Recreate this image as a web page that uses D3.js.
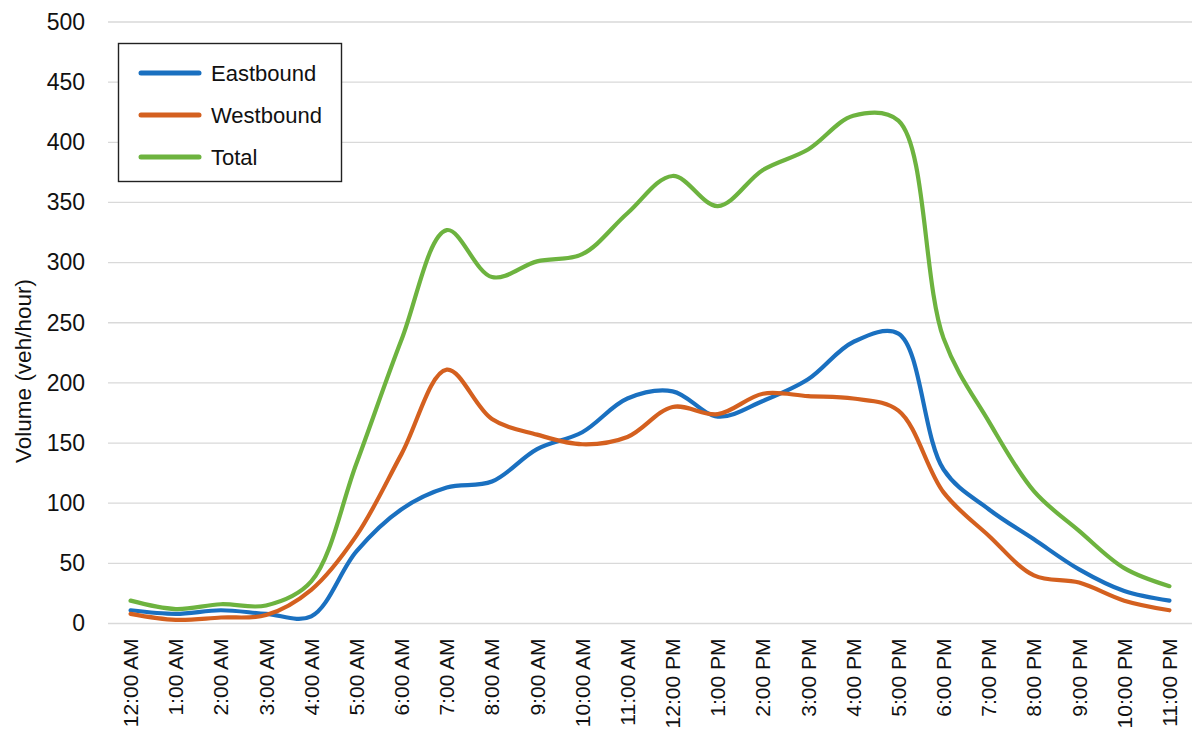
<!DOCTYPE html>
<html>
<head>
<meta charset="utf-8">
<script src="https://cdn.jsdelivr.net/npm/d3@7"></script>
<style>
  html, body { margin: 0; padding: 0; background: #fff; }
  svg { display: block; font-family: "Liberation Sans", Arial, sans-serif; }
</style>
</head>
<body>
<svg id="chart" width="1199" height="736"></svg>
<script>
const hours = ["12:00 AM","1:00 AM","2:00 AM","3:00 AM","4:00 AM","5:00 AM","6:00 AM","7:00 AM","8:00 AM","9:00 AM","10:00 AM","11:00 AM",
               "12:00 PM","1:00 PM","2:00 PM","3:00 PM","4:00 PM","5:00 PM","6:00 PM","7:00 PM","8:00 PM","9:00 PM","10:00 PM","11:00 PM"];
const eastbound = [11, 8, 11, 8, 6, 60, 95, 113, 118, 145, 159, 187, 193, 172, 185, 203, 234, 241, 128, 95, 70, 45, 27, 19];
const westbound = [8, 3, 5, 7, 28, 73, 141, 211, 170, 157, 149, 155, 180, 174, 191, 189, 187, 177, 109, 73, 40, 34, 19, 11];
const total     = [19, 12, 16, 15, 35, 133, 236, 327, 288, 301, 307, 341, 372, 347, 377, 394, 422, 418, 237, 168, 110, 77, 46, 31];
const yTicks = [0, 50, 100, 150, 200, 250, 300, 350, 400, 450, 500];
const seriesNames = ["Eastbound", "Westbound", "Total"];
const seriesColors = ["#1a70c0", "#d4601f", "#6db33f"];

const series = [eastbound, westbound, total].map((v, i) => ({ name: seriesNames[i], values: v, color: seriesColors[i] }));

const svg = d3.select("#chart");
const plotL = 108, plotR = 1192, plotT = 22, plotB = 623.5;

const x = d3.scaleBand().domain(hours).range([plotL, plotR]);
const y = d3.scaleLinear().domain([0, 500]).range([plotB, plotT]);

// gridlines
svg.append("g")
  .selectAll("line").data(yTicks).join("line")
  .attr("x1", plotL).attr("x2", plotR)
  .attr("y1", d => y(d)).attr("y2", d => y(d))
  .attr("stroke", "#d9d9d9").attr("stroke-width", 1.3);

// y axis
const yAxis = svg.append("g")
  .attr("transform", `translate(${plotL},0)`)
  .call(d3.axisLeft(y).tickValues(yTicks).tickSize(0).tickPadding(23));
yAxis.select(".domain").remove();
yAxis.selectAll("text").attr("font-size", 23).attr("fill", "#111")
  .attr("font-family", "Liberation Sans, Arial, sans-serif");

// x axis
const xAxis = svg.append("g")
  .attr("transform", `translate(0,${plotB})`)
  .call(d3.axisBottom(x).tickSize(0).tickPadding(0));
xAxis.select(".domain").remove();
xAxis.selectAll("text")
  .attr("font-size", 21).attr("fill", "#111")
  .attr("font-family", "Liberation Sans, Arial, sans-serif")
  .attr("text-anchor", "end")
  .attr("transform", "translate(0,15) rotate(-90)")
  .attr("x", 0).attr("y", 0).attr("dy", "0.36em");

// y label
svg.append("text")
  .attr("transform", `translate(23,${371}) rotate(-90)`)
  .attr("text-anchor", "middle")
  .attr("dominant-baseline", "central")
  .attr("font-size", 22.5)
  .attr("fill", "#111")
  .text("Volume (veh/hour)");

// lines
const line = d3.line()
  .x((d, i) => x(hours[i]) + x.bandwidth() / 2)
  .y(d => y(d))
  .curve(d3.curveCatmullRom.alpha(0.5));

svg.append("g").selectAll("path").data(series).join("path")
  .attr("d", d => line(d.values))
  .attr("fill", "none")
  .attr("stroke", d => d.color)
  .attr("stroke-width", 4.2)
  .attr("stroke-linecap", "round")
  .attr("stroke-linejoin", "round");

// legend
const lg = svg.append("g");
lg.append("rect").attr("x", 118.5).attr("y", 43.5).attr("width", 223).attr("height", 138)
  .attr("fill", "#fff").attr("stroke", "#222").attr("stroke-width", 1.4);
const items = lg.selectAll("g.item").data(series).join("g").attr("class", "item")
  .attr("transform", (d, i) => `translate(0,${73 + i * 42})`);
items.append("line").attr("x1", 141).attr("x2", 199).attr("y1", 0).attr("y2", 0)
  .attr("stroke", d => d.color).attr("stroke-width", 5).attr("stroke-linecap", "round");
items.append("text").attr("x", 211).attr("y", 0).attr("dy", "0.36em")
  .attr("font-size", 22).attr("fill", "#111").text(d => d.name);
</script>
</body>
</html>
